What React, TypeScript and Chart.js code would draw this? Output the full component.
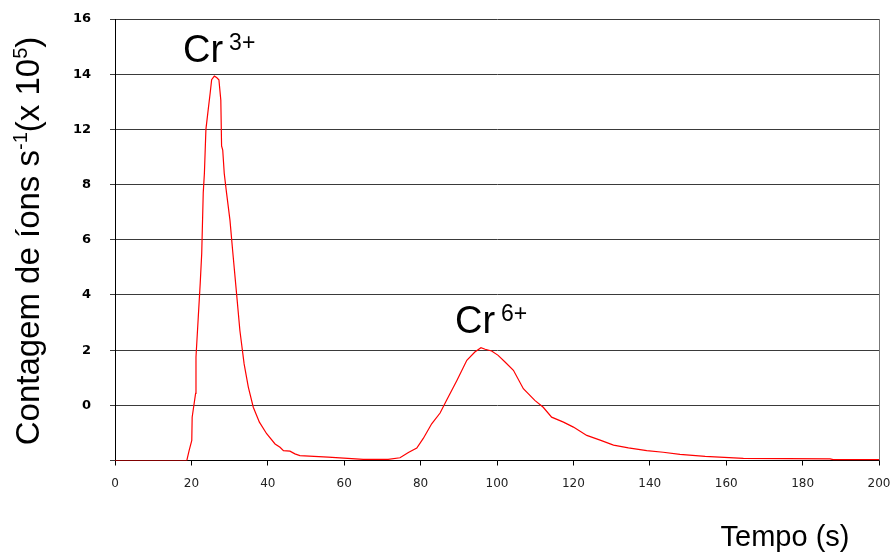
import React, { useEffect, useRef } from "react";
import { Chart, registerables } from "chart.js";

Chart.register(...registerables);

// ---- data ----
const timeSeconds = [
  0, 18.8, 19.4, 20.1, 20.2, 21.1, 21.2, 21.8, 22.3, 22.7, 23.1, 23.4, 23.8, 24.3, 24.9,
  25.3, 26.0, 26.6, 27.2, 27.7, 27.9, 28.2, 28.6, 29.2, 30.1, 30.8, 31.9, 32.7, 33.8,
  34.9, 36.2, 37.8, 39.7, 41.9, 43.2, 44.1, 45.8, 47.1, 48.4, 55.8, 65, 71.5, 74.6,
  76.8, 79, 80.7, 82.9, 85.1, 86.8, 89.5, 92.1, 94.2, 95.8, 96.9, 98.6, 100.3, 102.1,
  104.3, 106.9, 109.9, 112.1, 114.3, 117.4, 120, 123.5, 127, 130.5, 134.4, 139.2,
  143.5, 147.9, 154.5, 164.5, 187.2, 188, 200,
];
const ionCounts = [
  0, 0, 0.36, 0.73, 1.57, 2.43, 3.75, 5.2, 6.4, 7.5, 9.7, 10.4, 12.0, 12.6, 13.3,
  13.8, 13.93, 13.88, 13.8, 13.06, 11.4, 11.25, 10.4, 9.7, 8.7, 7.6, 5.93, 4.7, 3.5,
  2.66, 1.93, 1.39, 0.97, 0.6, 0.48, 0.36, 0.34, 0.24, 0.18, 0.12, 0.04, 0.04, 0.1,
  0.29, 0.45, 0.8, 1.33, 1.72, 2.18, 2.9, 3.63, 3.93, 4.09, 4.03, 3.97, 3.81, 3.57,
  3.27, 2.6, 2.18, 1.93, 1.57, 1.39, 1.21, 0.91, 0.74, 0.56, 0.46, 0.36,
  0.3, 0.22, 0.15, 0.08, 0.06, 0.03, 0.03,
];
const xTickStep = 20;
const yTickLabels = ["", "0", "2", "4", "6", "8", "12", "14", "16"];
const xTitle = "Tempo (s)";
const yTitleParts = [
  { text: "Contagem de íons s", sup: false },
  { text: "-1", sup: true },
  { text: "(x 10", sup: false },
  { text: "5", sup: true },
  { text: ")", sup: false },
];
const peakNames = ["Cr", "Cr"];
const peakCharges = ["3+", "6+"];
const peakLabelX = [17.8, 89.0];
const peakLabelY = [14.44, 4.61];

const FONT = '"Liberation Sans", Arial, sans-serif';

type Part = { text: string; sup: boolean };

function drawRich(
  ctx: CanvasRenderingContext2D,
  parts: Part[],
  x: number,
  y: number,
  mainSize: number,
  supSize: number,
  rise: number,
  supGap: number,
  center: boolean
) {
  const widths = parts.map((p) => {
    ctx.font = `${p.sup ? supSize : mainSize}px ${FONT}`;
    return ctx.measureText(p.text).width + (p.sup ? supGap : 0);
  });
  const total = widths.reduce((a, b) => a + b, 0);
  let cx = center ? x - total / 2 : x;
  parts.forEach((p, i) => {
    ctx.font = `${p.sup ? supSize : mainSize}px ${FONT}`;
    ctx.fillText(p.text, cx + (p.sup ? supGap : 0), p.sup ? y - rise : y);
    cx += widths[i];
  });
}

const decorPlugin = {
  id: "decor",
  afterDraw(chart: any) {
    const { ctx, chartArea, scales } = chart;
    ctx.save();
    // right border
    ctx.strokeStyle = "#777";
    ctx.lineWidth = 1;
    ctx.beginPath();
    ctx.moveTo(Math.round(chartArea.right) + 0.5, chartArea.top);
    ctx.lineTo(Math.round(chartArea.right) + 0.5, chartArea.bottom);
    ctx.stroke();

    ctx.fillStyle = "#000";
    ctx.textBaseline = "alphabetic";
    ctx.textAlign = "left";

    // peak labels
    peakNames.forEach((name, i) => {
      const px = scales.x.getPixelForValue(peakLabelX[i]);
      const py = scales.y.getPixelForValue(peakLabelY[i]);
      drawRich(
        ctx,
        [
          { text: name, sup: false },
          { text: peakCharges[i], sup: true },
        ],
        px,
        py,
        38,
        23,
        12,
        6,
        false
      );
    });

    // x title
    drawRich(ctx, [{ text: xTitle, sup: false }], 785, 546, 29, 18, 0, 0, true);

    // y title (rotated)
    ctx.translate(39, 241);
    ctx.rotate(-Math.PI / 2);
    drawRich(ctx, yTitleParts, 0, 0, 33, 20, 12, 0, true);
    ctx.restore();
  },
};

export default function App() {
  const ref = useRef<HTMLCanvasElement | null>(null);

  useEffect(() => {
    if (!ref.current) return;
    const points = timeSeconds.map((t, i) => ({ x: t, y: ionCounts[i] }));
    const chart = new Chart(ref.current, {
      type: "line",
      data: {
        datasets: [
          {
            data: points,
            borderColor: "#ff0000",
            borderWidth: 1.2,
            pointRadius: 0,
            tension: 0,
            fill: false,
          },
        ],
      },
      options: {
        animation: false,
        responsive: false,
        maintainAspectRatio: false,
        layout: { padding: { top: 19, right: 16, left: 0, bottom: 0 } },
        plugins: { legend: { display: false }, tooltip: { enabled: false } },
        scales: {
          x: {
            type: "linear",
            min: 0,
            max: 200,
            ticks: {
              stepSize: xTickStep,
              autoSkip: false,
              maxRotation: 0,
              color: "#222",
              padding: 11,
              font: { family: '"DejaVu Sans", sans-serif', size: 12 },
            },
            grid: {
              display: true,
              drawOnChartArea: false,
              drawTicks: true,
              tickLength: 5,
              color: "#000",
            },
            border: { display: true, color: "#000", width: 1 },
            afterFit: (s: any) => {
              s.height = 93.5;
              s.paddingLeft = 0;
              s.paddingRight = 0;
            },
          },
          y: {
            min: 0,
            max: 16,
            ticks: {
              stepSize: 2,
              color: "#000",
              padding: 19,
              font: { family: '"DejaVu Sans", sans-serif', size: 13, weight: "bold" },
              callback: (_v: any, i: number) => yTickLabels[i],
            },
            grid: { color: "#3a3a3a", lineWidth: 1, tickLength: 5 },
            border: { display: true, color: "#000", width: 1 },
            afterFit: (s: any) => {
              s.width = 115;
              s.paddingTop = 0;
              s.paddingBottom = 0;
            },
          },
        },
      },
      plugins: [decorPlugin],
    } as any);
    return () => chart.destroy();
  }, []);

  return (
    <div style={{ position: "fixed", left: 0, top: 0, width: 895, height: 554, background: "#fff" }}>
      <canvas ref={ref} width={895} height={554} style={{ width: 895, height: 554, display: "block" }} />
    </div>
  );
}
